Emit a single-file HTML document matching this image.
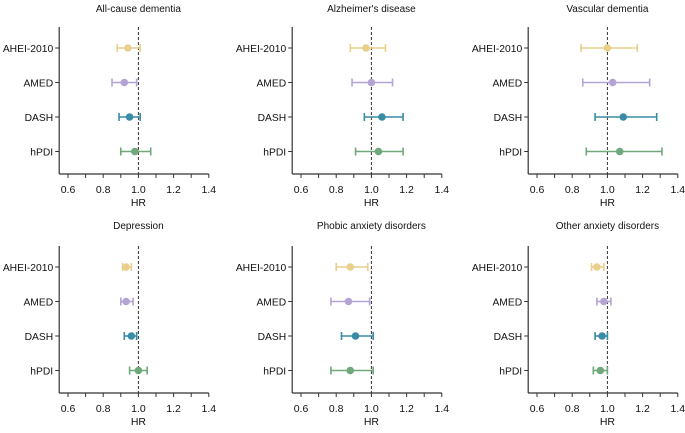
<!DOCTYPE html>
<html><head><meta charset="utf-8"><style>
body{margin:0;background:#fff;width:685px;height:428px;overflow:hidden}
svg text{font-family:"Liberation Sans",sans-serif;fill:#111}
</style></head><body>
<svg id="chart" width="685" height="428" viewBox="0 0 685 428"></svg>
<script>
const titles=["All-cause dementia","Alzheimer's disease","Vascular dementia","Depression","Phobic anxiety disorders","Other anxiety disorders"];
const categories=["AHEI-2010","AMED","DASH","hPDI"];
const colors=["#e8cf8c","#b4a4d4","#3a8ba6","#6ea87b"];
const pointEst=[[0.94,0.92,0.95,0.98],[0.97,1.00,1.06,1.04],[1.00,1.03,1.09,1.07],[0.93,0.93,0.96,1.00],[0.88,0.87,0.91,0.88],[0.94,0.98,0.97,0.96]];
const lowerCI=[[0.88,0.85,0.89,0.90],[0.88,0.89,0.96,0.91],[0.85,0.86,0.93,0.88],[0.91,0.90,0.92,0.95],[0.80,0.77,0.83,0.77],[0.91,0.94,0.93,0.92]];
const upperCI=[[1.01,0.99,1.01,1.07],[1.08,1.12,1.18,1.18],[1.17,1.24,1.28,1.31],[0.96,0.97,0.99,1.05],[0.98,0.99,1.01,1.01],[0.98,1.02,1.00,1.00]];
const tickVals=[0.6,0.8,1.0,1.2,1.4];
const tickLabels=["0.6","0.8","1.0","1.2","1.4"];
const svg=document.getElementById('chart');const NS="http://www.w3.org/2000/svg";
function mk(t,a,p){const e=document.createElementNS(NS,t);for(const k in a)e.setAttribute(k,a[k]);(p||svg).appendChild(e);return e;}
const panelX=[68,301,537];const panelY=[0,219];const titleY=[12,229];
for(let p=0;p<6;p++){
 const x06=panelX[p%3],r=Math.floor(p/3),oy=panelY[r];
 const sx=v=>x06+(v-0.6)*176;
 const rowY=i=>oy+48+i*34.5;
 const g=mk('g',{});
 
 
 const t=mk('text',{x:sx(1.0),y:titleY[r],'text-anchor':'middle','font-size':'10'},g);t.textContent=titles[p];
 
 const ax0=sx(0.55),axB=oy+174;
 const ya=mk('line',{x1:ax0,y1:oy+27,x2:ax0,y2:axB,stroke:'#333','stroke-width':1.2},g);
 
 const xa=mk('line',{x1:ax0,y1:axB,x2:sx(1.4),y2:axB,stroke:'#333','stroke-width':1.2},g);
 
 for(let v=0.6;v<1.41;v+=0.1){mk('line',{x1:sx(v),y1:axB,x2:sx(v),y2:axB+4,stroke:'#333','stroke-width':1},g);}
 tickVals.forEach((v,i)=>{const tl=mk('text',{x:sx(v),y:axB+19,'text-anchor':'middle','font-size':'10.5'},g);tl.textContent=tickLabels[i];
  });
 const xt=mk('text',{x:sx(1.0),y:axB+32,'text-anchor':'middle','font-size':'10.5'},g);xt.textContent="HR";
 
 const ref=mk('line',{x1:sx(1.0),y1:oy+27,x2:sx(1.0),y2:axB,stroke:'#333','stroke-width':1,'stroke-dasharray':'3,2'},g);
 
 categories.forEach((c,i)=>{
  const y=rowY(i);
  mk('line',{x1:ax0-4,y1:y,x2:ax0,y2:y,stroke:'#333','stroke-width':1},g);
  const l=mk('text',{x:ax0-6,y:y+4,'text-anchor':'end','font-size':'10.3'},g);l.textContent=c;
  
  const col=colors[i];
  const ci=mk('line',{x1:sx(lowerCI[p][i]),y1:y,x2:sx(upperCI[p][i]),y2:y,stroke:col,'stroke-width':1.6},g);
  
  [lowerCI[p][i],upperCI[p][i]].forEach(v=>mk('line',{x1:sx(v),y1:y-4,x2:sx(v),y2:y+4,stroke:col,'stroke-width':1.6},g));
  const pt=mk('circle',{cx:sx(pointEst[p][i]),cy:y,r:3.8,fill:col},g);
  
 });
}
</script>
</body></html>
